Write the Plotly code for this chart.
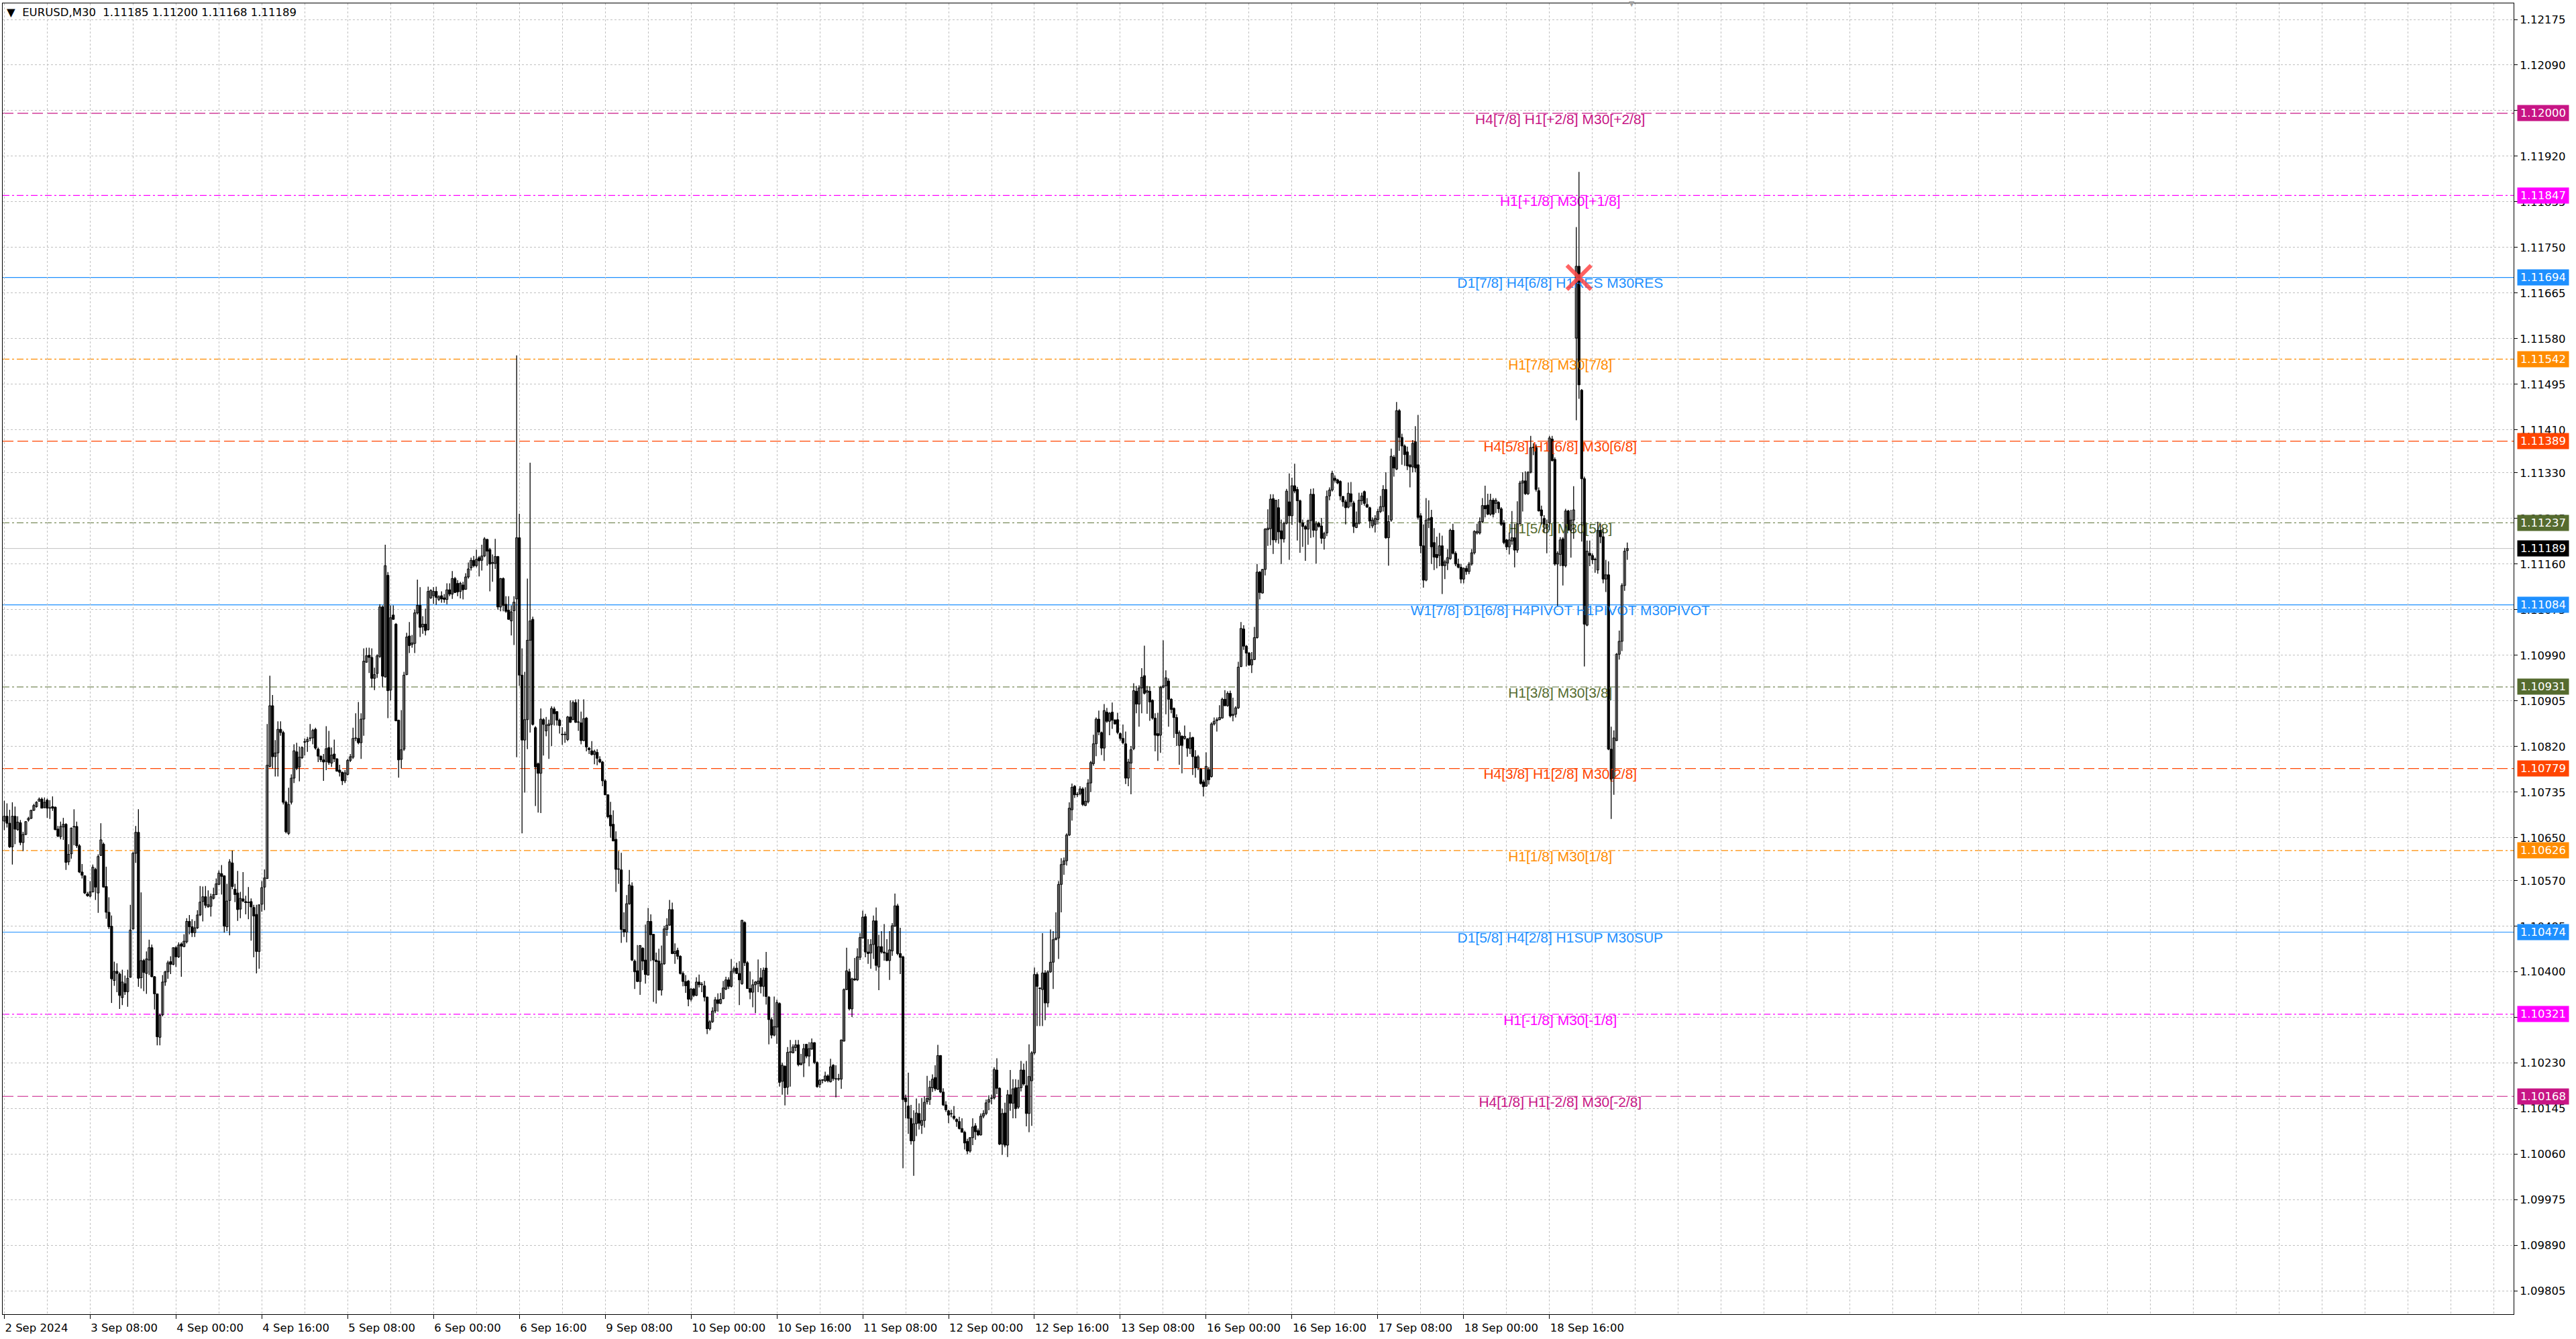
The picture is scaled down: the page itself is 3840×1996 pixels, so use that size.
import plotly.graph_objects as go

# ---------------------------------------------------------------------------
# EURUSD M30 candles, stored as points (1e-5) above 1.09000
# ---------------------------------------------------------------------------
BASE = 1.09

opens = [
    1681, 1690, 1677, 1633, 1690, 1665, 1678, 1641, 1656, 1683, 1686, 1701, 1708, 1718, 1722, 1706, 1720, 1705, 1708, 1707,
    1666, 1652, 1670, 1675, 1605, 1620, 1670, 1671, 1635, 1586, 1579, 1545, 1541, 1549, 1591, 1547, 1617, 1638, 1559, 1511,
    1485, 1384, 1401, 1396, 1352, 1378, 1363, 1390, 1480, 1621, 1660, 1389, 1421, 1397, 1422, 1445, 1391, 1359, 1278, 1320,
    1381, 1400, 1419, 1414, 1445, 1428, 1452, 1447, 1456, 1494, 1484, 1473, 1482, 1506, 1531, 1540, 1521, 1522, 1537, 1544,
    1563, 1583, 1579, 1484, 1533, 1603, 1554, 1547, 1517, 1536, 1531, 1529, 1531, 1520, 1507, 1438, 1526, 1558, 1574, 1783,
    1896, 1801, 1808, 1852, 1846, 1716, 1658, 1716, 1761, 1810, 1782, 1799, 1828, 1829, 1835, 1836, 1852, 1815, 1802, 1795,
    1792, 1818, 1789, 1806, 1797, 1776, 1772, 1756, 1768, 1794, 1800, 1835, 1835, 1827, 1871, 1977, 1990, 1986, 1947, 1956,
    1988, 2080, 1950, 2139, 1925, 2065, 2048, 1869, 1796, 1815, 1954, 2026, 2010, 2012, 2069, 2083, 2043, 2048, 2038, 2097,
    2101, 2109, 2094, 2101, 2097, 2094, 2112, 2104, 2133, 2124, 2109, 2121, 2113, 2136, 2153, 2167, 2157, 2172, 2167, 2175,
    2206, 2187, 2161, 2161, 2174, 2080, 2133, 2085, 2074, 2054, 2073, 2095, 2209, 1953, 1832, 1870, 2018, 2057, 1855, 1788,
    1770, 1870, 1849, 1859, 1861, 1890, 1885, 1869, 1842, 1842, 1833, 1875, 1870, 1902, 1865, 1864, 1831, 1873, 1817, 1812,
    1805, 1809, 1796, 1791, 1756, 1730, 1692, 1675, 1647, 1591, 1590, 1479, 1474, 1527, 1560, 1420, 1402, 1382, 1444, 1422,
    1394, 1494, 1470, 1422, 1420, 1366, 1415, 1479, 1487, 1516, 1434, 1440, 1429, 1397, 1382, 1383, 1349, 1368, 1356, 1381,
    1376, 1374, 1353, 1294, 1307, 1327, 1348, 1341, 1350, 1368, 1385, 1373, 1401, 1407, 1397, 1378, 1492, 1417, 1369, 1362,
    1376, 1378, 1389, 1373, 1407, 1353, 1311, 1282, 1297, 1341, 1196, 1224, 1185, 1250, 1249, 1259, 1264, 1227, 1230, 1265,
    1243, 1256, 1268, 1231, 1190, 1198, 1197, 1206, 1195, 1226, 1200, 1200, 1200, 1271, 1367, 1400, 1331, 1387, 1385, 1427,
    1463, 1503, 1437, 1435, 1451, 1495, 1409, 1447, 1437, 1435, 1421, 1439, 1485, 1523, 1434, 1428, 1165, 1150, 1127, 1085,
    1117, 1136, 1114, 1123, 1158, 1162, 1184, 1203, 1181, 1244, 1176, 1152, 1141, 1135, 1131, 1125, 1121, 1108, 1101, 1084,
    1066, 1091, 1113, 1104, 1096, 1131, 1136, 1157, 1164, 1165, 1217, 1183, 1079, 1137, 1077, 1171, 1155, 1184, 1148, 1184,
    1217, 1188, 1136, 1197, 1249, 1395, 1369, 1367, 1398, 1342, 1400, 1418, 1460, 1463, 1563, 1600, 1607, 1655, 1702, 1746,
    1730, 1732, 1741, 1710, 1717, 1752, 1788, 1825, 1871, 1846, 1817, 1884, 1867, 1884, 1869, 1870, 1844, 1835, 1825, 1761,
    1789, 1816, 1923, 1899, 1929, 1952, 1921, 1923, 1906, 1873, 1844, 1841, 1930, 1933, 1942, 1908, 1891, 1874, 1822, 1839,
    1835, 1834, 1816, 1837, 1801, 1780, 1778, 1754, 1746, 1777, 1764, 1862, 1868, 1870, 1873, 1908, 1896, 1919, 1878, 1880,
    1892, 1969, 2039, 2007, 1994, 1972, 1982, 2023, 2145, 2106, 2150, 2224, 2226, 2282, 2205, 2265, 2222, 2207, 2236, 2276,
    2250, 2306, 2299, 2278, 2237, 2230, 2225, 2241, 2290, 2223, 2236, 2231, 2208, 2218, 2287, 2298, 2320, 2317, 2314, 2286,
    2276, 2266, 2291, 2274, 2228, 2236, 2278, 2295, 2271, 2265, 2231, 2234, 2243, 2258, 2267, 2299, 2209, 2242, 2359, 2337,
    2446, 2396, 2380, 2369, 2345, 2341, 2388, 2345, 2250, 2194, 2130, 2242, 2247, 2200, 2178, 2176, 2194, 2157, 2162, 2170,
    2223, 2180, 2160, 2154, 2132, 2152, 2146, 2160, 2181, 2218, 2218, 2239, 2269, 2270, 2253, 2279, 2273, 2275, 2263, 2237,
    2205, 2192, 2203, 2209, 2186, 2235, 2311, 2315, 2291, 2331, 2377, 2377, 2297, 2261, 2245, 2227, 2237, 2393, 2355, 2160,
    2178, 2207, 2157, 2259, 2223, 2242, 2581, 2715, 2484, 2319, 2046, 2180, 2176, 2168, 2149, 2223, 2211, 2132, 2140, 1815,
    1761, 1831, 1992, 2016, 2120, 2185,
]

highs = [
    1719, 1714, 1702, 1716, 1708, 1690, 1683, 1661, 1681, 1689, 1702, 1713, 1718, 1725, 1725, 1725, 1723, 1720, 1727, 1708,
    1672, 1680, 1687, 1677, 1638, 1669, 1703, 1680, 1638, 1601, 1580, 1549, 1569, 1600, 1594, 1619, 1677, 1641, 1596, 1539,
    1505, 1419, 1416, 1399, 1404, 1393, 1404, 1525, 1624, 1672, 1703, 1548, 1424, 1438, 1460, 1451, 1392, 1359, 1322, 1394,
    1402, 1421, 1429, 1446, 1448, 1455, 1455, 1470, 1500, 1506, 1498, 1495, 1515, 1560, 1559, 1560, 1552, 1546, 1557, 1574,
    1589, 1599, 1580, 1564, 1610, 1626, 1564, 1588, 1549, 1586, 1542, 1558, 1537, 1525, 1525, 1525, 1569, 1591, 1862, 1952,
    1916, 1832, 1867, 1867, 1849, 1719, 1743, 1768, 1824, 1827, 1820, 1820, 1835, 1838, 1862, 1853, 1855, 1818, 1803, 1806,
    1858, 1849, 1818, 1833, 1798, 1786, 1773, 1776, 1797, 1806, 1855, 1882, 1903, 1882, 2003, 2004, 2004, 2003, 1967, 1992,
    2085, 2083, 2196, 2145, 2083, 2083, 2050, 1870, 1888, 1959, 2032, 2052, 2028, 2075, 2131, 2117, 2063, 2077, 2118, 2113,
    2117, 2118, 2102, 2109, 2104, 2124, 2124, 2147, 2136, 2130, 2127, 2127, 2143, 2163, 2172, 2175, 2187, 2175, 2196, 2210,
    2207, 2190, 2178, 2207, 2175, 2134, 2135, 2100, 2100, 2083, 2100, 2549, 2254, 2003, 1959, 2133, 2349, 2062, 1858, 1790,
    1891, 1873, 1875, 1870, 1895, 1894, 1886, 1872, 1856, 1848, 1877, 1906, 1906, 1908, 1908, 1885, 1908, 1875, 1819, 1830,
    1814, 1815, 1802, 1793, 1759, 1731, 1717, 1701, 1662, 1625, 1622, 1511, 1543, 1590, 1567, 1423, 1450, 1450, 1446, 1488,
    1519, 1507, 1471, 1436, 1443, 1449, 1486, 1500, 1534, 1529, 1453, 1445, 1431, 1401, 1394, 1385, 1370, 1370, 1390, 1395,
    1381, 1383, 1354, 1310, 1334, 1353, 1360, 1361, 1383, 1391, 1390, 1424, 1410, 1417, 1420, 1497, 1494, 1420, 1401, 1386,
    1383, 1423, 1407, 1408, 1437, 1355, 1315, 1354, 1348, 1343, 1231, 1226, 1260, 1273, 1265, 1273, 1273, 1247, 1266, 1266,
    1269, 1276, 1269, 1233, 1200, 1200, 1214, 1209, 1238, 1228, 1226, 1210, 1274, 1369, 1445, 1406, 1389, 1426, 1444, 1472,
    1514, 1508, 1461, 1461, 1505, 1520, 1469, 1476, 1489, 1461, 1476, 1491, 1546, 1527, 1482, 1430, 1171, 1212, 1152, 1142,
    1164, 1155, 1165, 1168, 1206, 1197, 1209, 1226, 1264, 1245, 1183, 1159, 1143, 1143, 1150, 1127, 1130, 1127, 1104, 1089,
    1092, 1127, 1118, 1108, 1136, 1142, 1162, 1170, 1171, 1222, 1239, 1185, 1145, 1156, 1180, 1217, 1200, 1200, 1199, 1234,
    1229, 1234, 1265, 1252, 1408, 1399, 1371, 1472, 1403, 1403, 1479, 1476, 1511, 1569, 1612, 1613, 1658, 1716, 1751, 1748,
    1735, 1746, 1744, 1744, 1759, 1793, 1842, 1874, 1887, 1848, 1899, 1892, 1884, 1902, 1871, 1883, 1846, 1861, 1848, 1797,
    1821, 1938, 1933, 1934, 1966, 2008, 1933, 1932, 1908, 1882, 1883, 1933, 2018, 1962, 1947, 1910, 1893, 1880, 1850, 1841,
    1859, 1836, 1847, 1838, 1813, 1804, 1780, 1758, 1809, 1782, 1865, 1874, 1874, 1897, 1911, 1925, 1923, 1924, 1911, 1895,
    1978, 2052, 2046, 2009, 1996, 1996, 2043, 2160, 2147, 2151, 2227, 2262, 2290, 2290, 2279, 2281, 2243, 2239, 2300, 2329,
    2321, 2347, 2304, 2280, 2243, 2233, 2243, 2300, 2301, 2240, 2239, 2246, 2220, 2297, 2303, 2334, 2325, 2319, 2316, 2287,
    2280, 2312, 2313, 2278, 2258, 2293, 2293, 2297, 2283, 2267, 2247, 2251, 2263, 2287, 2307, 2331, 2251, 2375, 2363, 2462,
    2449, 2403, 2383, 2379, 2363, 2391, 2417, 2438, 2255, 2234, 2283, 2279, 2261, 2227, 2211, 2218, 2213, 2168, 2188, 2226,
    2235, 2184, 2170, 2160, 2154, 2157, 2164, 2188, 2223, 2235, 2247, 2283, 2306, 2291, 2291, 2283, 2283, 2277, 2266, 2242,
    2207, 2219, 2259, 2235, 2277, 2315, 2331, 2333, 2333, 2399, 2385, 2383, 2303, 2269, 2251, 2243, 2399, 2399, 2359, 2184,
    2210, 2210, 2263, 2261, 2261, 2305, 2788, 2891, 2486, 2323, 2204, 2204, 2180, 2172, 2239, 2235, 2227, 2168, 2165, 1857,
    1850, 1994, 2036, 2124, 2190, 2200,
]

lows = [
    1664, 1669, 1631, 1600, 1638, 1663, 1636, 1625, 1655, 1680, 1685, 1700, 1706, 1717, 1705, 1705, 1687, 1685, 1700, 1664,
    1651, 1647, 1646, 1590, 1599, 1611, 1636, 1631, 1584, 1574, 1545, 1540, 1539, 1548, 1534, 1510, 1616, 1557, 1499, 1480,
    1342, 1374, 1362, 1331, 1338, 1357, 1335, 1389, 1479, 1603, 1372, 1369, 1364, 1359, 1394, 1390, 1330, 1263, 1263, 1317,
    1374, 1387, 1396, 1412, 1409, 1426, 1391, 1446, 1453, 1470, 1465, 1465, 1480, 1504, 1494, 1519, 1520, 1503, 1535, 1543,
    1562, 1544, 1473, 1476, 1468, 1554, 1530, 1495, 1500, 1530, 1507, 1498, 1458, 1427, 1397, 1406, 1512, 1515, 1573, 1781,
    1779, 1764, 1764, 1840, 1712, 1658, 1655, 1712, 1752, 1776, 1755, 1797, 1803, 1810, 1830, 1824, 1814, 1791, 1791, 1756,
    1776, 1786, 1782, 1791, 1773, 1764, 1748, 1752, 1766, 1791, 1797, 1830, 1824, 1797, 1840, 1976, 1957, 1930, 1925, 1948,
    1985, 1930, 1948, 1873, 1906, 2056, 1867, 1762, 1779, 1812, 1953, 1994, 2004, 1994, 2066, 2024, 2030, 2027, 2036, 2095,
    2086, 2084, 2091, 2088, 2088, 2085, 2100, 2095, 2106, 2100, 2096, 2094, 2112, 2133, 2148, 2154, 2154, 2137, 2148, 2173,
    2157, 2109, 2127, 2151, 2075, 2072, 2072, 2069, 2056, 2027, 2009, 1800, 1933, 1658, 1734, 1815, 1846, 1859, 1709, 1697,
    1696, 1803, 1839, 1797, 1821, 1859, 1859, 1844, 1823, 1827, 1830, 1864, 1869, 1864, 1849, 1824, 1830, 1811, 1806, 1803,
    1787, 1785, 1789, 1746, 1729, 1686, 1650, 1643, 1549, 1564, 1454, 1465, 1455, 1525, 1420, 1368, 1381, 1357, 1403, 1378,
    1393, 1420, 1344, 1341, 1365, 1356, 1413, 1467, 1486, 1433, 1415, 1423, 1395, 1373, 1361, 1336, 1345, 1353, 1355, 1371,
    1362, 1345, 1284, 1291, 1305, 1323, 1326, 1340, 1349, 1366, 1368, 1371, 1397, 1396, 1338, 1376, 1411, 1368, 1349, 1334,
    1323, 1362, 1360, 1354, 1339, 1265, 1276, 1280, 1266, 1186, 1171, 1151, 1171, 1186, 1248, 1252, 1224, 1226, 1204, 1239,
    1224, 1255, 1228, 1184, 1184, 1192, 1195, 1194, 1194, 1197, 1166, 1197, 1182, 1270, 1366, 1328, 1316, 1383, 1383, 1422,
    1462, 1427, 1415, 1406, 1424, 1402, 1366, 1434, 1421, 1420, 1385, 1430, 1484, 1431, 1396, 1034, 1127, 1098, 1078, 1020,
    1094, 1106, 1098, 1110, 1153, 1152, 1176, 1178, 1180, 1174, 1150, 1139, 1118, 1129, 1124, 1111, 1106, 1101, 1069, 1060,
    1063, 1077, 1087, 1094, 1095, 1127, 1133, 1142, 1153, 1162, 1172, 1077, 1059, 1073, 1055, 1141, 1127, 1127, 1145, 1177,
    1188, 1112, 1101, 1113, 1246, 1299, 1299, 1299, 1310, 1334, 1398, 1368, 1459, 1424, 1511, 1581, 1598, 1653, 1682, 1724,
    1726, 1729, 1709, 1709, 1714, 1735, 1784, 1802, 1841, 1804, 1793, 1864, 1841, 1853, 1861, 1843, 1831, 1824, 1750, 1746,
    1731, 1813, 1882, 1857, 1882, 1917, 1881, 1868, 1870, 1811, 1793, 1808, 1929, 1880, 1857, 1882, 1836, 1821, 1786, 1770,
    1833, 1801, 1806, 1767, 1762, 1776, 1749, 1727, 1745, 1749, 1762, 1859, 1848, 1869, 1872, 1895, 1894, 1874, 1867, 1874,
    1890, 1968, 2000, 1969, 1970, 1957, 1981, 2021, 2094, 2105, 2139, 2194, 2195, 2179, 2200, 2198, 2160, 2200, 2234, 2168,
    2233, 2292, 2204, 2181, 2192, 2166, 2196, 2209, 2210, 2161, 2228, 2198, 2187, 2212, 2279, 2295, 2312, 2309, 2279, 2267,
    2234, 2264, 2267, 2218, 2227, 2234, 2270, 2269, 2265, 2227, 2227, 2219, 2234, 2255, 2258, 2207, 2157, 2239, 2323, 2335,
    2371, 2345, 2343, 2335, 2303, 2331, 2331, 2243, 2180, 2116, 2128, 2227, 2160, 2149, 2152, 2156, 2104, 2132, 2149, 2168,
    2178, 2156, 2152, 2124, 2124, 2140, 2141, 2157, 2178, 2215, 2215, 2237, 2247, 2251, 2250, 2247, 2255, 2255, 2231, 2197,
    2186, 2178, 2196, 2154, 2181, 2234, 2258, 2289, 2289, 2329, 2363, 2295, 2258, 2234, 2219, 2180, 2223, 2351, 2157, 2082,
    2156, 2120, 2154, 2223, 2172, 2207, 2428, 2468, 2202, 1969, 2044, 2156, 2160, 2144, 2142, 2199, 2124, 2108, 1813, 1685,
    1730, 1830, 1982, 1998, 2110, 2168,
]

closes = [
    1690, 1677, 1633, 1690, 1666, 1679, 1641, 1656, 1680, 1686, 1701, 1710, 1716, 1722, 1705, 1716, 1705, 1705, 1705, 1665,
    1653, 1671, 1675, 1604, 1619, 1668, 1670, 1635, 1586, 1580, 1547, 1542, 1549, 1595, 1558, 1615, 1646, 1558, 1511, 1484,
    1387, 1401, 1397, 1356, 1381, 1363, 1388, 1478, 1621, 1660, 1388, 1421, 1399, 1424, 1445, 1391, 1359, 1279, 1319, 1381,
    1400, 1417, 1414, 1445, 1428, 1450, 1448, 1457, 1494, 1484, 1473, 1482, 1506, 1530, 1540, 1524, 1525, 1540, 1544, 1564,
    1584, 1578, 1485, 1532, 1605, 1559, 1544, 1516, 1537, 1532, 1529, 1529, 1521, 1504, 1438, 1525, 1557, 1575, 1785, 1896,
    1801, 1808, 1852, 1846, 1716, 1661, 1712, 1761, 1812, 1779, 1800, 1818, 1828, 1833, 1835, 1850, 1817, 1802, 1795, 1791,
    1816, 1790, 1804, 1797, 1774, 1772, 1756, 1771, 1794, 1801, 1835, 1835, 1827, 1871, 1979, 1989, 1986, 1947, 1954, 1989,
    2080, 1951, 2157, 1924, 2060, 2057, 1868, 1795, 1814, 1953, 2024, 2008, 2013, 2069, 2083, 2042, 2048, 2036, 2109, 2111,
    2109, 2098, 2099, 2095, 2094, 2112, 2104, 2133, 2107, 2108, 2124, 2112, 2136, 2151, 2167, 2157, 2169, 2166, 2175, 2207,
    2184, 2160, 2163, 2174, 2080, 2133, 2083, 2072, 2057, 2071, 2089, 2209, 1953, 1832, 1870, 2018, 2054, 1861, 1782, 1770,
    1871, 1861, 1860, 1862, 1891, 1881, 1869, 1859, 1842, 1842, 1875, 1865, 1902, 1865, 1865, 1831, 1872, 1819, 1814, 1805,
    1811, 1798, 1791, 1756, 1730, 1689, 1672, 1644, 1591, 1591, 1479, 1474, 1527, 1562, 1422, 1400, 1382, 1449, 1420, 1395,
    1494, 1469, 1422, 1419, 1366, 1415, 1480, 1487, 1516, 1434, 1438, 1429, 1397, 1382, 1374, 1349, 1368, 1356, 1381, 1376,
    1376, 1353, 1294, 1307, 1327, 1348, 1341, 1349, 1370, 1385, 1373, 1401, 1406, 1397, 1385, 1496, 1417, 1369, 1362, 1376,
    1381, 1383, 1373, 1403, 1354, 1311, 1282, 1298, 1343, 1194, 1226, 1184, 1250, 1250, 1260, 1264, 1227, 1230, 1257, 1243,
    1257, 1268, 1231, 1186, 1198, 1198, 1206, 1197, 1223, 1201, 1200, 1200, 1273, 1367, 1402, 1331, 1387, 1385, 1428, 1464,
    1502, 1437, 1434, 1451, 1495, 1412, 1447, 1437, 1435, 1421, 1441, 1486, 1523, 1434, 1427, 1162, 1158, 1127, 1085, 1117,
    1137, 1118, 1123, 1157, 1164, 1185, 1200, 1182, 1244, 1176, 1152, 1143, 1133, 1135, 1127, 1121, 1108, 1101, 1081, 1066,
    1091, 1111, 1102, 1096, 1131, 1136, 1156, 1162, 1164, 1218, 1183, 1079, 1136, 1077, 1171, 1155, 1182, 1145, 1184, 1217,
    1191, 1136, 1205, 1249, 1395, 1373, 1369, 1398, 1342, 1400, 1418, 1460, 1463, 1563, 1600, 1607, 1655, 1705, 1744, 1730,
    1730, 1741, 1712, 1718, 1752, 1790, 1825, 1871, 1847, 1817, 1887, 1867, 1882, 1869, 1862, 1846, 1835, 1827, 1761, 1791,
    1814, 1924, 1899, 1929, 1949, 1919, 1924, 1903, 1873, 1841, 1840, 1930, 1933, 1948, 1908, 1889, 1874, 1844, 1846, 1822,
    1839, 1817, 1836, 1801, 1780, 1801, 1751, 1745, 1783, 1758, 1862, 1867, 1870, 1874, 1908, 1896, 1919, 1877, 1880, 1892,
    1968, 2040, 2007, 1994, 1972, 1982, 2023, 2145, 2107, 2150, 2225, 2227, 2281, 2205, 2279, 2220, 2207, 2236, 2296, 2250,
    2306, 2296, 2278, 2238, 2230, 2225, 2241, 2290, 2223, 2235, 2230, 2208, 2217, 2286, 2298, 2329, 2316, 2311, 2287, 2276,
    2265, 2292, 2276, 2230, 2236, 2279, 2287, 2273, 2266, 2240, 2242, 2245, 2258, 2267, 2299, 2209, 2239, 2361, 2339, 2446,
    2396, 2380, 2364, 2343, 2341, 2385, 2339, 2247, 2194, 2130, 2242, 2245, 2192, 2173, 2172, 2194, 2157, 2164, 2172, 2223,
    2180, 2160, 2154, 2132, 2152, 2146, 2160, 2181, 2221, 2221, 2239, 2269, 2263, 2253, 2279, 2253, 2279, 2263, 2234, 2200,
    2192, 2205, 2209, 2186, 2235, 2311, 2315, 2291, 2331, 2377, 2377, 2299, 2259, 2250, 2234, 2234, 2395, 2353, 2160, 2180,
    2205, 2157, 2259, 2223, 2242, 2261, 2715, 2494, 2319, 2048, 2184, 2176, 2168, 2168, 2223, 2211, 2132, 2140, 1815, 1759,
    1836, 1992, 2016, 2120, 2184, 2189,
]

# time axis labels (one every 32 bars, first bar = 2 Sep 16:00)
time_labels = [
    "2 Sep 2024", "3 Sep 08:00", "4 Sep 00:00", "4 Sep 16:00", "5 Sep 08:00", "6 Sep 00:00",
    "6 Sep 16:00", "9 Sep 08:00", "10 Sep 00:00", "10 Sep 16:00", "11 Sep 08:00", "12 Sep 00:00",
    "12 Sep 16:00", "13 Sep 08:00", "16 Sep 00:00", "16 Sep 16:00", "17 Sep 08:00", "18 Sep 00:00",
    "18 Sep 16:00",
]

price_ticks = [
    "1.12175", "1.12090", "1.12005", "1.11920", "1.11835", "1.11750", "1.11665", "1.11580",
    "1.11495", "1.11410", "1.11330", "1.11245", "1.11160", "1.11075", "1.10990", "1.10905",
    "1.10820", "1.10735", "1.10650", "1.10570", "1.10485", "1.10400", "1.10315", "1.10230",
    "1.10145", "1.10060", "1.09975", "1.09890", "1.09805",
]

# Murrey-math style levels
levels = [1.12000, 1.11847, 1.11694, 1.11542, 1.11389, 1.11237, 1.11084,
          1.10931, 1.10779, 1.10626, 1.10474, 1.10321, 1.10168]
level_names = [
    "H4[7/8] H1[+2/8] M30[+2/8]",
    "H1[+1/8] M30[+1/8]",
    "D1[7/8] H4[6/8] H1RES M30RES",
    "H1[7/8] M30[7/8]",
    "H4[5/8] H1[6/8] M30[6/8]",
    "H1[5/8] M30[5/8]",
    "W1[7/8] D1[6/8] H4PIVOT H1PIVOT M30PIVOT",
    "H1[3/8] M30[3/8]",
    "H4[3/8] H1[2/8] M30[2/8]",
    "H1[1/8] M30[1/8]",
    "D1[5/8] H4[2/8] H1SUP M30SUP",
    "H1[-1/8] M30[-1/8]",
    "H4[1/8] H1[-2/8] M30[-2/8]",
]
level_colors = ["#C71585", "#FF00FF", "#1E90FF", "#FF8C00", "#FF4500", "#556B2F", "#1E90FF",
                "#556B2F", "#FF4500", "#FF8C00", "#1E90FF", "#FF00FF", "#C71585"]
level_styles = ["dash", "dashdot", "solid", "dashdot", "dash", "dashdot", "solid",
                "dashdot", "dash", "dashdot", "solid", "dashdot", "dash"]

# red cross marker
cross_bar = [587]
cross_price = [1.11694]

DASHES = {"dash": "16px,6px", "dashdot": "10px,4px,3px,4px", "solid": "solid"}
LABEL_BAR = 580
AXIS_FONT = "DejaVu Sans"

# ---------------------------------------------------------------------------
n = min(len(opens), len(highs), len(lows), len(closes))
o = [round(BASE + v / 1e5, 5) for v in opens[:n]]
h = [round(BASE + v / 1e5, 5) for v in highs[:n]]
l = [round(BASE + v / 1e5, 5) for v in lows[:n]]
c = [round(BASE + v / 1e5, 5) for v in closes[:n]]
idx = list(range(n))

fig = go.Figure()

# level texts (drawn under the candles)
fig.add_trace(go.Scatter(
    x=[LABEL_BAR] * len(levels), y=levels, mode="text", text=level_names,
    textposition="bottom center",
    textfont=dict(family="Liberation Sans", size=21, color=level_colors),
    hoverinfo="skip", showlegend=False,
))

# wicks
wx, wy = [], []
for i in idx:
    wx += [i, i, None]
    wy += [l[i], h[i], None]
fig.add_trace(go.Scatter(x=wx, y=wy, mode="lines", line=dict(color="black", width=1.3),
                         hoverinfo="skip", showlegend=False))

# bodies
MIN_BODY = 0.00001
for up, fill in ((True, "white"), (False, "black")):
    sel = [i for i in idx if (c[i] >= o[i]) == up]
    fig.add_trace(go.Bar(
        x=sel,
        base=[min(o[i], c[i]) for i in sel],
        y=[max(abs(c[i] - o[i]), MIN_BODY) for i in sel],
        width=0.8,
        marker=dict(color=fill, line=dict(color="black", width=1)),
        hoverinfo="skip", showlegend=False,
    ))

fig.add_trace(go.Scatter(
    x=cross_bar, y=cross_price, mode="markers",
    marker=dict(symbol="x-thin", size=36, line=dict(width=6, color="rgba(255,70,70,0.85)")),
    hoverinfo="skip", showlegend=False,
))

# level lines + right-hand price boxes
shapes, annotations = [], []
for lvl, col, sty in zip(levels, level_colors, level_styles):
    shapes.append(dict(type="line", xref="paper", x0=0, x1=1, yref="y", y0=lvl, y1=lvl,
                       line=dict(color=col, width=1.2, dash=DASHES[sty]), layer="between"))
    annotations.append(dict(xref="paper", x=1, xanchor="left", xshift=5, yref="y", y=lvl,
                            yanchor="middle", text=f"{lvl:.5f}", showarrow=False,
                            bgcolor=col, font=dict(family=AXIS_FONT, size=16.5, color="white"),
                            width=72, height=19, borderpad=2))

last = c[-1]
shapes.append(dict(type="line", xref="paper", x0=0, x1=1, yref="y", y0=last, y1=last,
                   line=dict(color="#C0C0C0", width=1), layer="between"))
annotations.append(dict(xref="paper", x=1, xanchor="left", xshift=5, yref="y", y=last,
                        yanchor="middle", text=f"{last:.5f}", showarrow=False,
                        bgcolor="black", font=dict(family=AXIS_FONT, size=16.5, color="white"),
                        width=72, height=19, borderpad=2))

header = ("\u25BC\u00a0\u00a0EURUSD,M30\u00a0\u00a0"
          f"{o[-1]:.5f} {h[-1]:.5f} {l[-1]:.5f} {c[-1]:.5f}")
annotations.append(dict(xref="paper", x=0, xanchor="left", xshift=4, yref="paper", y=1,
                        yanchor="top", yshift=-2, text=header, showarrow=False,
                        font=dict(family=AXIS_FONT, size=16.5, color="black")))
annotations.append(dict(xref="x", x=n + 0.7, yref="paper", y=1, yanchor="middle",
                        text="\u25BC", showarrow=False,
                        font=dict(family=AXIS_FONT, size=11, color="#A0A0A0")))

fig.update_layout(
    template="none",
    width=3840, height=1996,
    margin=dict(l=4, r=93, t=5, b=37, autoexpand=False),
    paper_bgcolor="white", plot_bgcolor="white",
    barmode="overlay", showlegend=False,
    font=dict(family=AXIS_FONT, size=16.5, color="black"),
    shapes=shapes, annotations=annotations,
    xaxis=dict(
        range=[-0.6, 935.4], zeroline=False, automargin=False,
        tickvals=[32 * k for k in range(len(time_labels))], ticktext=time_labels,
        ticks="outside", ticklen=6, tickcolor="black", ticklabelposition="outside right",
        ticklabelstandoff=5,
        showgrid=False,
        minor=dict(tickvals=list(range(0, 936, 16)), showgrid=True, gridcolor="#C0C0C0",
                   griddash="3px,3px", gridwidth=1, ticks=""),
        showline=True, linecolor="black", linewidth=1, mirror=True,
        tickfont=dict(family=AXIS_FONT, size=16.5, color="black"),
    ),
    yaxis=dict(
        range=[1.09762, 1.12205], side="right", zeroline=False, automargin=False,
        tickvals=[float(t) for t in price_ticks], ticktext=price_ticks,
        ticks="outside", ticklen=5, tickcolor="black",
        showgrid=True, gridcolor="#C0C0C0", griddash="3px,3px", gridwidth=1,
        showline=True, linecolor="black", linewidth=1, mirror=True,
        tickfont=dict(family=AXIS_FONT, size=16.5, color="black"),
    ),
)

# the page body has a default 8px margin; remove it so the chart sits at the window edge
fig.write_html("out.html", config={"displayModeBar": False},
               post_script="document.body.style.margin='0';document.body.style.overflow='hidden';")
